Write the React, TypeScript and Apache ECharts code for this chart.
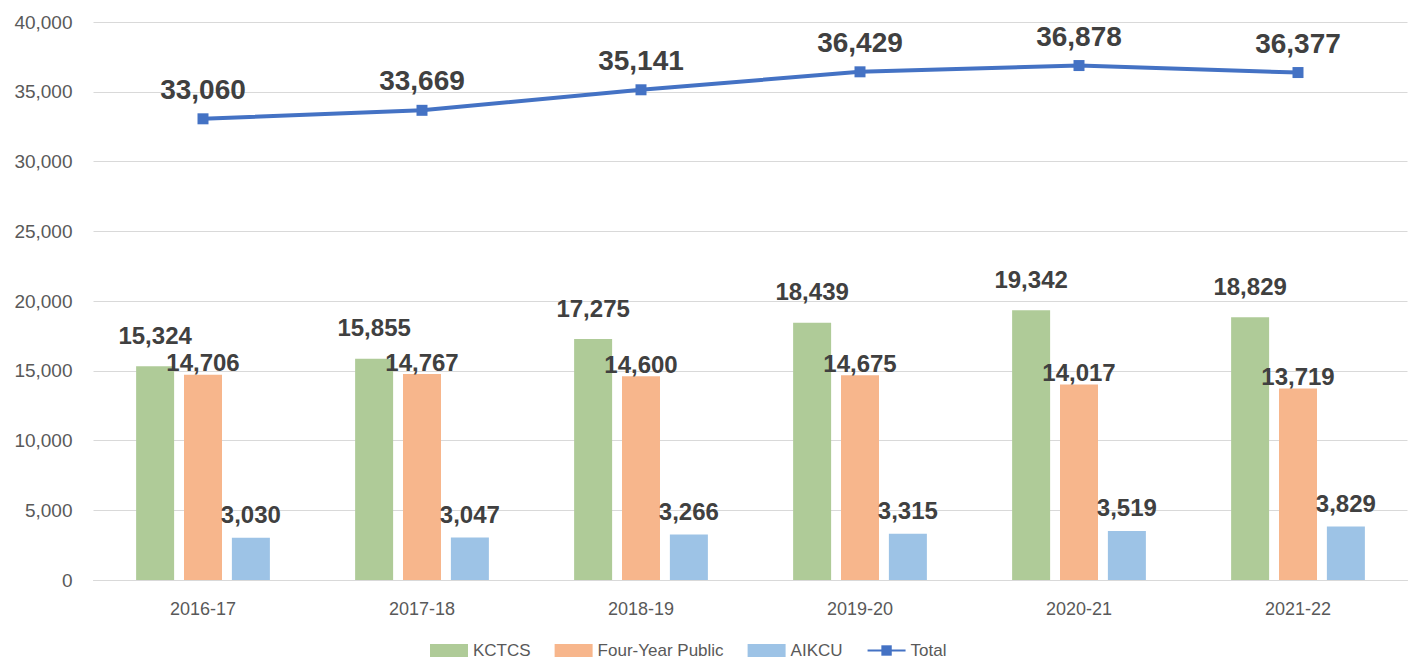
import React, { useEffect, useRef } from "react";
import * as echarts from "echarts";

const categories = ["2016-17", "2017-18", "2018-19", "2019-20", "2020-21", "2021-22"];
const kctcs = [15324, 15855, 17275, 18439, 19342, 18829];
const fourYearPublic = [14706, 14767, 14600, 14675, 14017, 13719];
const aikcu = [3030, 3047, 3266, 3315, 3519, 3829];
const total = [33060, 33669, 35141, 36429, 36878, 36377];
const yTicks = { min: 0, max: 40000, interval: 5000 };

const FONT = "'Liberation Sans', Arial, sans-serif";
const fmt = (v: number) => v.toLocaleString("en-US");

export default function App() {
  const ref = useRef<HTMLDivElement>(null);
  useEffect(() => {
    if (!ref.current) return;
    const chart = echarts.init(ref.current, null, { renderer: "svg" });
    const barLabel = (distance: number) => ({
      show: true,
      position: "top" as const,
      distance,
      color: "#404040",
      fontFamily: FONT,
      fontWeight: "bold" as const,
      fontSize: 24,
      formatter: (p: any) => fmt(p.value),
    });
    chart.setOption({
      animation: false,
      backgroundColor: "#ffffff",
      textStyle: { fontFamily: FONT },
      grid: { left: 93.5, right: 7.5, top: 22, bottom: 85, containLabel: false },
      legend: {
        top: 640,
        left: 428,
        padding: 2,
        itemWidth: 38,
        itemHeight: 13,
        itemGap: 24,
        textStyle: { color: "#595959", fontSize: 17, fontFamily: FONT },
        data: [
          { name: "KCTCS", icon: "rect" },
          { name: "Four-Year Public", icon: "rect" },
          { name: "AIKCU", icon: "rect" },
          { name: "Total" },
        ],
      },
      xAxis: {
        type: "category",
        data: categories,
        axisLine: { lineStyle: { color: "#d9d9d9", width: 1 } },
        axisTick: { show: false },
        axisLabel: { color: "#595959", fontSize: 18, margin: 20, fontFamily: FONT },
      },
      yAxis: {
        type: "value",
        min: yTicks.min,
        max: yTicks.max,
        interval: yTicks.interval,
        axisLine: { show: false },
        axisTick: { show: false },
        axisLabel: { color: "#595959", fontSize: 19, margin: 21, fontFamily: FONT, formatter: (v: number) => fmt(v) },
        splitLine: { lineStyle: { color: "#d9d9d9", width: 1 } },
      },
      series: [
        {
          name: "KCTCS",
          type: "bar",
          data: kctcs,
          barWidth: 38,
          barGap: "26%",
          itemStyle: { color: "#AFCB98" },
          label: barLabel(19),
        },
        {
          name: "Four-Year Public",
          type: "bar",
          data: fourYearPublic,
          barWidth: 38,
          barGap: "26%",
          itemStyle: { color: "#F7B68C" },
          label: barLabel(0),
        },
        {
          name: "AIKCU",
          type: "bar",
          data: aikcu,
          barWidth: 38,
          barGap: "26%",
          itemStyle: { color: "#9DC3E6" },
          label: barLabel(11),
        },
        {
          name: "Total",
          type: "line",
          data: total,
          symbol: "rect",
          symbolSize: 11,
          lineStyle: { color: "#4472C4", width: 4 },
          itemStyle: { color: "#4472C4" },
          label: {
            show: true,
            position: "top",
            distance: 10,
            color: "#404040",
            fontFamily: FONT,
            fontWeight: "bold",
            fontSize: 28,
            formatter: (p: any) => fmt(p.value),
          },
        },
      ],
    });
    return () => chart.dispose();
  }, []);
  return (
    <div
      ref={ref}
      style={{ position: "fixed", left: 0, top: 0, width: 1415, height: 665, background: "#fff" }}
    />
  );
}
